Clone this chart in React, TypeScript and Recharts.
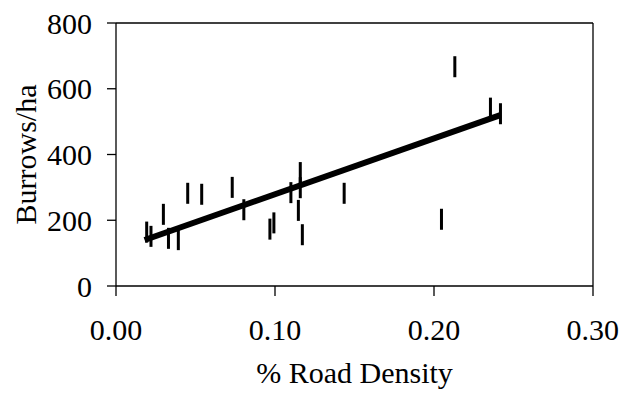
import { ScatterChart, Scatter, XAxis, YAxis, ReferenceLine, Label } from "recharts"

// road density (%) and burrow counts per site
const densityValues = [
  0.0193, 0.022, 0.0298, 0.033, 0.0392, 0.0451, 0.0539, 0.0731, 0.0804, 0.0968, 0.0993,
  0.11, 0.1159, 0.1159, 0.1147, 0.1172, 0.1435, 0.2047, 0.2131, 0.2355, 0.2418,
]
const burrowValues = [
  164, 151, 218, 145, 141, 282, 279, 300, 232, 173, 192,
  284, 345, 299, 230, 156, 282, 203, 667, 541, 524,
]

// fitted regression line end points
const fitX = [0.018, 0.2417]
const fitY = [140, 520]

const xTicks = [0, 0.1, 0.2, 0.3]
const yTicks = [0, 200, 400, 600, 800]

const FONT = "'Liberation Serif', 'Times New Roman', serif"
const INK = "#000"

const points = densityValues.map((x, i) => ({ x, y: burrowValues[i] }))
const fitLine = fitX.map((x, i) => ({ x, y: fitY[i] }))

// the sites are drawn as short vertical bars
function BarMark(props: any) {
  const { cx, cy } = props
  if (cx == null || cy == null) return <g />
  return <rect x={cx - 1.5} y={cy - 10.5} width={3} height={21} fill={INK} />
}

export default function App() {
  const tickStyle = { fill: INK, fontSize: 30, fontFamily: FONT }

  return (
    <div style={{ position: "absolute", left: 0, top: 0, width: 619, height: 394, background: "#fff" }}>
      <ScatterChart width={619} height={394} margin={{ top: 23, right: 26, bottom: 0, left: 0 }}>
        <XAxis
          type="number"
          dataKey="x"
          domain={[0, 0.3]}
          ticks={xTicks}
          tickFormatter={(v: number) => v.toFixed(2)}
          height={108}
          tickSize={10}
          tickMargin={23}
          tick={tickStyle}
          axisLine={{ stroke: INK, strokeWidth: 1.3 }}
          tickLine={{ stroke: INK, strokeWidth: 1.3 }}
          allowDataOverflow
        >
          <Label
            value="% Road Density"
            position="insideBottom"
            offset={11}
            style={{ fill: INK, fontSize: 30, fontFamily: FONT }}
          />
        </XAxis>
        <YAxis
          type="number"
          dataKey="y"
          domain={[0, 800]}
          ticks={yTicks}
          width={116}
          tickSize={9}
          tickMargin={15}
          tick={tickStyle}
          axisLine={{ stroke: INK, strokeWidth: 1.3 }}
          tickLine={{ stroke: INK, strokeWidth: 1.3 }}
          allowDataOverflow
        >
          <Label
            value="Burrows/ha"
            angle={-90}
            position="insideLeft"
            offset={25}
            style={{ fill: INK, fontSize: 30, fontFamily: FONT, textAnchor: "middle" }}
          />
        </YAxis>
        <ReferenceLine y={800} stroke={INK} strokeWidth={1.3} />
        <ReferenceLine x={0.3} stroke={INK} strokeWidth={1.3} />
        <Scatter
          data={fitLine}
          line={{ stroke: INK, strokeWidth: 6 }}
          shape={() => <g />}
          isAnimationActive={false}
        />
        <Scatter data={points} shape={BarMark} isAnimationActive={false} />
      </ScatterChart>
    </div>
  )
}
